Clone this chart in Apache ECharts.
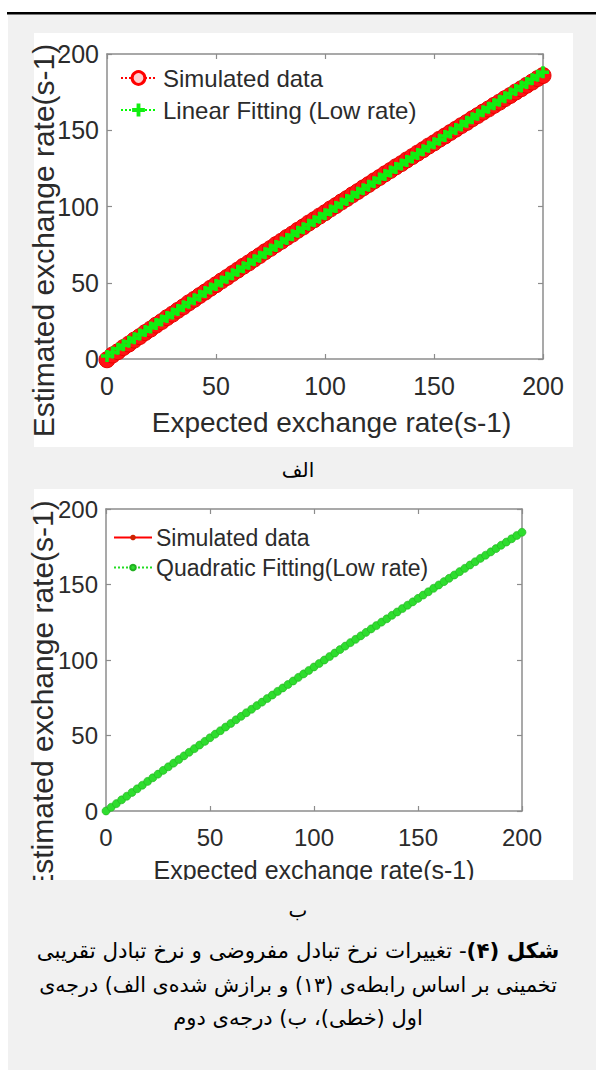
<!DOCTYPE html>
<html><head><meta charset="utf-8">
<script src="https://cdn.jsdelivr.net/npm/echarts@6/dist/echarts.min.js"></script>
<style>html,body{margin:0;padding:0;background:#fff}#c{width:596px;height:1070px}</style>
</head><body><div id="c"></div><script>
// ---- data ----
const xValues = [0,2.5,5,7.5,10,12.5,15,17.5,20,22.5,25,27.5,30,32.5,35,37.5,40,42.5,45,47.5,50,52.5,55,57.5,60,62.5,65,67.5,70,72.5,75,77.5,80,82.5,85,87.5,90,92.5,95,97.5,100,102.5,105,107.5,110,112.5,115,117.5,120,122.5,125,127.5,130,132.5,135,137.5,140,142.5,145,147.5,150,152.5,155,157.5,160,162.5,165,167.5,170,172.5,175,177.5,180,182.5,185,187.5,190,192.5,195,197.5,200];
const simulatedA = [-0.5,2.6,4.8,7.5,9.8,12.4,14.7,17.3,19.6,22.2,24.5,27.1,29.4,31.9,34.2,36.8,39.1,41.6,43.9,46.4,48.7,51.2,53.5,56.0,58.3,60.8,63.0,65.5,67.8,70.3,72.5,75.0,77.2,79.7,81.9,84.4,86.6,89.1,91.3,93.7,95.9,98.4,100.6,103.0,105.2,107.6,109.8,112.2,114.4,116.8,119.0,121.4,123.6,126.0,128.1,130.5,132.7,135.0,137.2,139.6,141.7,144.1,146.2,148.5,150.7,153.0,155.1,157.5,159.6,161.9,164.0,166.3,168.4,170.7,172.8,175.1,177.2,179.5,181.6,183.9,185.9];
const linearFitA = [2.0,4.3,6.7,9.0,11.3,13.6,16.0,18.3,20.6,22.9,25.3,27.6,29.9,32.2,34.6,36.9,39.2,41.5,43.9,46.2,48.5,50.8,53.2,55.5,57.8,60.1,62.5,64.8,67.1,69.4,71.8,74.1,76.4,78.7,81.1,83.4,85.7,88.0,90.4,92.7,95.0,97.3,99.7,102.0,104.3,106.6,109.0,111.3,113.6,115.9,118.3,120.6,122.9,125.2,127.6,129.9,132.2,134.5,136.9,139.2,141.5,143.8,146.2,148.5,150.8,153.1,155.5,157.8,160.1,162.4,164.8,167.1,169.4,171.7,174.1,176.4,178.7,181.0,183.4,185.7,188.0];
const simulatedB = [0.3,2.0,5.5,7.0,10.4,12.9,14.2,17.6,19.0,22.5,25.1,26.3,29.9,31.2,34.8,35.9,39.5,40.8,44.4,45.5,49.1,50.4,53.9,55.0,58.7,59.8,63.4,64.5,68.1,69.2,72.8,74.0,77.5,78.6,82.2,83.2,86.8,87.9,91.5,92.5,96.1,97.1,100.7,101.7,105.3,106.3,109.9,110.9,114.4,115.4,119.0,119.9,123.5,124.5,128.0,128.9,132.5,133.5,137.0,137.9,141.5,142.4,145.9,146.9,150.3,151.3,154.8,155.7,159.2,160.1,163.6,164.5,168.0,168.8,172.3,173.2,176.7,177.5,181.0,181.8,184.9];
const quadraticFitB = [0.0,2.5,4.9,7.4,9.8,12.3,14.7,17.1,19.6,22.0,24.4,26.9,29.3,31.7,34.1,36.5,38.9,41.3,43.7,46.1,48.5,50.9,53.2,55.6,58.0,60.4,62.7,65.1,67.4,69.8,72.1,74.5,76.8,79.2,81.5,83.8,86.1,88.5,90.8,93.1,95.4,97.7,100.0,102.3,104.6,106.9,109.2,111.5,113.7,116.0,118.3,120.6,122.8,125.1,127.3,129.6,131.8,134.1,136.3,138.5,140.8,143.0,145.2,147.5,149.7,151.9,154.1,156.3,158.5,160.7,162.9,165.1,167.3,169.4,171.6,173.8,176.0,178.1,180.3,182.5,184.6];
const axisTicks = [0, 50, 100, 150, 200];
const seriesNamesA = ['Simulated data', 'Linear Fitting (Low rate)'];
const seriesNamesB = ['Simulated\u00A0data', 'Quadratic Fitting(Low rate)'];
const xTitle = 'Expected exchange rate(s-1)';
const yTitle = 'Estimated exchange rate(s-1)';
const subLabels = ['الف', 'ب'];
const captionBold = 'شکل (۴)';
const captionLines = [
  '- تغییرات نرخ تبادل مفروضی و نرخ تبادل تقریبی',
  'تخمینی بر اساس رابطه\u200Cی (۱۳) و برازش شده\u200Cی الف) درجه\u200Cی',
  'اول (خطی)، ب) درجه\u200Cی دوم'
];

// ---- styles ----
const FONT = "'Liberation Sans', Arial, sans-serif";
const AR = "'DejaVu Sans', sans-serif";
const GRAY = '#8c8c8c';
const TXT = '#2b2b2b';
const CAP = '#000000';
const RTL = s => '\u202B' + s + '\u202C';
const plusPath = 'path://M3.5,0H6.5V3.5H10V6.5H6.5V10H3.5V6.5H0V3.5H3.5Z';
const tMin = axisTicks[0], tMax = axisTicks[axisTicks.length - 1], tInt = axisTicks[1] - axisTicks[0];

function xAx(g, pos, lab, name, nameSize, gap, pad) {
  return {
    type: 'value', gridIndex: g, position: pos, min: tMin, max: tMax, interval: tInt,
    axisLine: { show: true, onZero: false, lineStyle: { color: GRAY, width: 1.5 } },
    axisTick: { show: true, inside: true, length: 5, lineStyle: { color: GRAY, width: 1.2 } },
    splitLine: { show: false },
    axisLabel: { show: !!lab, fontSize: lab || 12, color: TXT, fontFamily: FONT, margin: 14 },
    name: name || '', nameLocation: 'middle', nameGap: gap || 0, nameMoveOverlap: false,
    nameTextStyle: { fontSize: nameSize || 12, color: TXT, fontFamily: FONT, padding: pad || 0 }
  };
}
function yAx(g, pos, lab, name, nameSize, gap, pad) {
  const a = xAx(g, pos, lab, name, nameSize, gap, pad);
  a.axisLabel.margin = 8;
  return a;
}

const option = {
  animation: false,
  backgroundColor: '#ffffff',
  grid: [
    { left: 107, top: 54, width: 436, height: 305 },
    { left: 106, top: 509, width: 416, height: 302 }
  ],
  xAxis: [
    xAx(0, 'bottom', 25, xTitle, 28, 49, [0, 0, 0, 13]),
    xAx(0, 'top', 0),
    xAx(1, 'bottom', 24, xTitle, 25, 46, 0),
    xAx(1, 'top', 0)
  ],
  yAxis: [
    yAx(0, 'left', 25, yTitle, 30, 49, [0, 68, 0, 0]),
    yAx(0, 'right', 0),
    yAx(1, 'left', 24, yTitle, 30, 49, [0, 74, 0, 0]),
    yAx(1, 'right', 0)
  ],
  legend: [
    {
      left: 120, top: 66, padding: 0, orient: 'vertical', itemGap: 8, itemWidth: 35, itemHeight: 16,
      selectedMode: false,
      textStyle: { fontSize: 24, color: TXT, fontFamily: FONT, padding: [0, 0, 0, 2] },
      data: [
        { name: seriesNamesA[0], itemStyle: { color: '#ffd0d0', borderColor: '#ff0000', borderWidth: 3 } },
        { name: seriesNamesA[1] }
      ]
    },
    {
      left: 113, top: 526, padding: 0, orient: 'vertical', itemGap: 7, itemWidth: 38, itemHeight: 7,
      selectedMode: false,
      textStyle: { fontSize: 23, color: TXT, fontFamily: FONT, padding: [0, 0, 0, -1] },
      data: [seriesNamesB[0], seriesNamesB[1]]
    }
  ],
  series: [
    {
      name: seriesNamesA[0], type: 'line', xAxisIndex: 0, yAxisIndex: 0, clip: false, z: 2,
      data: xValues.map((x, i) => [x, simulatedA[i]]),
      symbol: 'circle', symbolSize: 16,
      lineStyle: { color: '#ff0000', width: 3, type: 'dotted' },
      itemStyle: { color: '#ff1414', borderColor: '#e80000', borderWidth: 1 }
    },
    {
      name: seriesNamesA[1], type: 'line', xAxisIndex: 0, yAxisIndex: 0, clip: false, z: 3,
      data: xValues.map((x, i) => [x, linearFitA[i]]),
      symbol: plusPath, symbolSize: 12,
      lineStyle: { color: '#00ff00', width: 3, type: 'dotted' },
      itemStyle: { color: '#11ee11' }
    },
    {
      name: seriesNamesB[0], type: 'line', xAxisIndex: 2, yAxisIndex: 2, clip: false, z: 2,
      data: xValues.map((x, i) => [x, simulatedB[i]]),
      symbol: 'circle', symbolSize: 5,
      lineStyle: { color: '#ff0000', width: 3, type: 'solid' },
      itemStyle: { color: '#cc2200' }
    },
    {
      name: seriesNamesB[1], type: 'line', xAxisIndex: 2, yAxisIndex: 2, clip: false, z: 3,
      data: xValues.map((x, i) => [x, quadraticFitB[i]]),
      symbol: 'circle', symbolSize: 8,
      lineStyle: { color: '#22dd22', width: 1.5, type: 'dotted' },
      itemStyle: { color: '#2edd2e', borderColor: '#22b022', borderWidth: 0.6 }
    }
  ],
  graphic: { elements: [
    { type: 'rect', z: -100, shape: { x: 0, y: 0, width: 596, height: 1070 }, style: { fill: '#ffffff' } },
    { type: 'rect', z: -99, shape: { x: 8, y: 14, width: 588, height: 1056 }, style: { fill: '#f1f1f1' } },
    { type: 'rect', z: -98, shape: { x: 7, y: 12, width: 589, height: 2.5 }, style: { fill: '#000000' } },
    { type: 'rect', z: -98, shape: { x: 34, y: 33, width: 539, height: 414 }, style: { fill: '#ffffff' } },
    { type: 'rect', z: -98, shape: { x: 34, y: 489, width: 539, height: 391 }, style: { fill: '#ffffff' } },
    { type: 'rect', z: 100, shape: { x: 8, y: 880, width: 588, height: 16 }, style: { fill: '#f1f1f1' } },
    { type: 'text', z: 101, x: 298, y: 470, style: { text: RTL(subLabels[0]), fontSize: 20, fontFamily: AR, fill: CAP, align: 'center', verticalAlign: 'middle' } },
    { type: 'text', z: 101, x: 298, y: 910, style: { text: RTL(subLabels[1]), fontSize: 20, fontFamily: AR, fill: CAP, align: 'center', verticalAlign: 'middle' } },
    { type: 'text', z: 101, x: 298, y: 950, style: {
        text: '{n|' + RTL(captionLines[0]) + '}{b|' + RTL(captionBold) + '}',
        align: 'center', verticalAlign: 'middle',
        rich: {
          n: { fontSize: 21.4, fontFamily: AR, fill: CAP, color: CAP },
          b: { fontSize: 21.4, fontFamily: AR, fontWeight: 'bold', fill: CAP, color: CAP }
        }
    } },
    { type: 'text', z: 101, x: 298, y: 985, style: { text: RTL(captionLines[1]), fontSize: 20.6, fontFamily: AR, fill: CAP, align: 'center', verticalAlign: 'middle' } },
    { type: 'text', z: 101, x: 298, y: 1018, style: { text: RTL(captionLines[2]), fontSize: 21, fontFamily: AR, fill: CAP, align: 'center', verticalAlign: 'middle' } }
  ] }
};

const chart = echarts.init(document.getElementById('c'), null, { renderer: 'svg', width: 596, height: 1070 });
chart.setOption(option);
</script></body></html>
